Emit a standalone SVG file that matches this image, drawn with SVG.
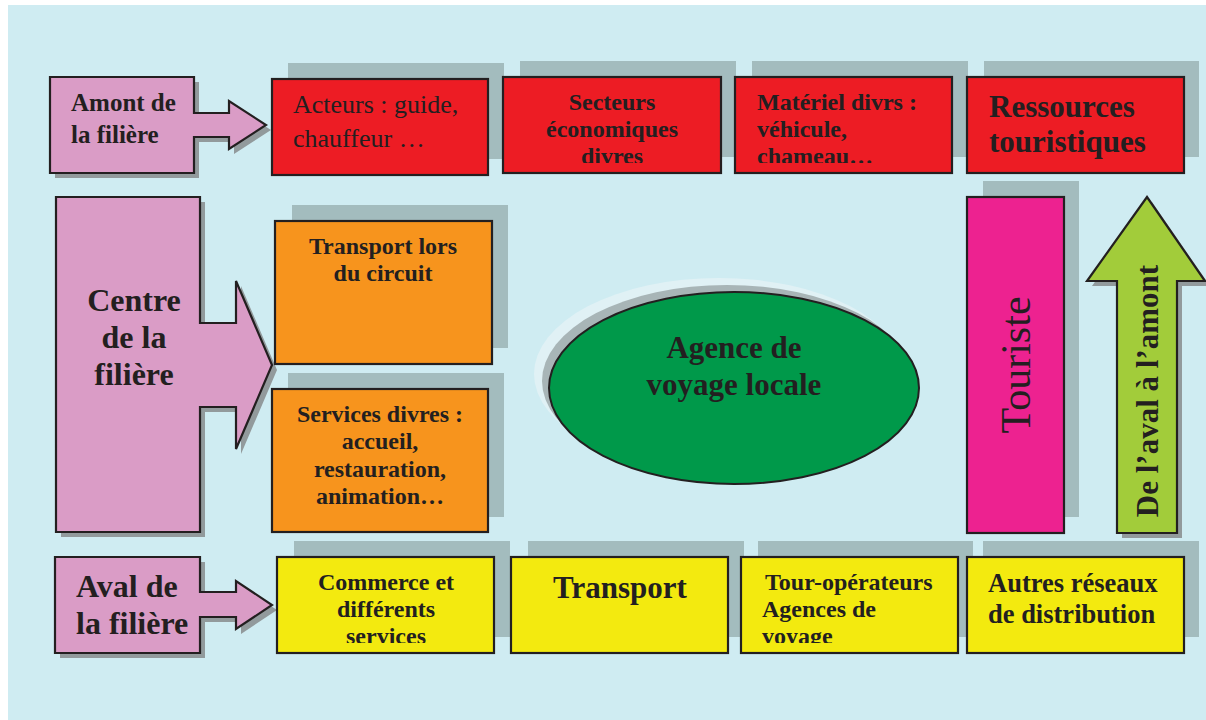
<svg xmlns="http://www.w3.org/2000/svg" width="1206" height="720" viewBox="0 0 1206 720">
<style>
.bs{fill:#a3bcbe}
.as{fill:#929a9c}
.st{stroke:#231f20;stroke-width:2.2}
.pk{fill:#da9cc6}
.rd{fill:#ed1c24}
.or{fill:#f7941d}
.ye{fill:#f3ea0f}
.t{font-family:"Liberation Serif","Times New Roman",serif;fill:#231f20}
.b{font-weight:bold}
.m{text-anchor:middle}
</style>
<defs>
<clipPath id="c1"><rect x="503" y="77" width="218" height="86"/></clipPath>
<clipPath id="c2"><rect x="735" y="77" width="217" height="86"/></clipPath>
<clipPath id="c3"><rect x="277" y="557" width="217" height="86"/></clipPath>
<clipPath id="c4"><rect x="741" y="557" width="217" height="86"/></clipPath>
</defs>
<rect x="0" y="0" width="1206" height="720" fill="#ffffff"/>
<rect x="8" y="5" width="1198" height="715" fill="#cfecf2"/>

<g id="connectors">
<g id="amont">
<polygon class="as" transform="translate(5,5)" points="50,77 194,77 194,113 229,113 229,101 266,125 229,149 229,137 194,137 194,173 50,173"/>
<polygon class="pk st" points="50,77 194,77 194,113 229,113 229,101 266,125 229,149 229,137 194,137 194,173 50,173"/>
<text class="t b" font-size="25" x="71" y="111">Amont de</text>
<text class="t b" font-size="25" x="71" y="143">la filière</text>
</g>
<g id="centre">
<polygon class="as" transform="translate(5,5)" points="56,197 200,197 200,323 236,323 236,281 272,365 236,449 236,407 200,407 200,532 56,532"/>
<polygon class="pk st" points="56,197 200,197 200,323 236,323 236,281 272,365 236,449 236,407 200,407 200,532 56,532"/>
<text class="t b m" font-size="32" x="134" y="311">Centre</text>
<text class="t b m" font-size="32" x="134" y="348">de la</text>
<text class="t b m" font-size="32" x="134" y="385">filière</text>
</g>
<g id="aval">
<polygon class="as" transform="translate(5,5)" points="55,557 200,557 200,592 236,592 236,581 272,605 236,629 236,617 200,617 200,653 55,653"/>
<polygon class="pk st" points="55,557 200,557 200,592 236,592 236,581 272,605 236,629 236,617 200,617 200,653 55,653"/>
<text class="t b" font-size="32" x="76" y="597">Aval de</text>
<text class="t b" font-size="32" x="76" y="634">la filière</text>
</g>
<g id="aval-amont">
<polygon class="as" transform="translate(5,5)" points="1147,197 1205,281 1177,281 1177,533 1117,533 1117,281 1087,281"/>
<polygon fill="#a2cc3a" class="st" points="1147,197 1205,281 1177,281 1177,533 1117,533 1117,281 1087,281"/>
<text class="t b m" font-size="31" transform="translate(1158,391) rotate(-90)">De l’aval à l’amont</text>
</g>
</g>

<g id="acteurs">
<rect class="bs" x="288" y="63" width="216" height="96"/>
<rect class="rd st" x="272" y="79" width="216" height="96"/>
<text class="t" font-size="26" x="293" y="113">Acteurs : guide,</text>
<text class="t" font-size="26" x="293" y="147">chauffeur …</text>
</g>
<g id="secteurs">
<rect class="bs" x="520" y="61" width="216" height="96"/>
<rect class="rd st" x="503" y="77" width="218" height="96"/>
<g clip-path="url(#c1)">
<text class="t b m" font-size="24" x="612" y="110">Secteurs</text>
<text class="t b m" font-size="24" x="612" y="137">économiques</text>
<text class="t b m" font-size="24" x="612" y="164">divres</text>
</g>
</g>
<g id="materiel">
<rect class="bs" x="752" y="61" width="216" height="96"/>
<rect class="rd st" x="735" y="77" width="217" height="96"/>
<g clip-path="url(#c2)">
<text class="t b" font-size="24" x="757" y="110">Matériel divrs :</text>
<text class="t b" font-size="24" x="757" y="137">véhicule,</text>
<text class="t b" font-size="24" x="757" y="164">chameau…</text>
</g>
</g>
<g id="ressources">
<rect class="bs" x="984" y="61" width="215" height="96"/>
<rect class="rd st" x="967" y="77" width="217" height="96"/>
<text class="t b" font-size="31" x="989" y="117">Ressources</text>
<text class="t b" font-size="31" x="989" y="152">touristiques</text>
</g>

<g id="transport-circuit">
<rect class="bs" x="292" y="205" width="216" height="143"/>
<rect class="or st" x="275" y="221" width="217" height="143"/>
<text class="t b m" font-size="24" x="383" y="254">Transport lors</text>
<text class="t b m" font-size="24" x="383" y="281">du circuit</text>
</g>
<g id="services">
<rect class="bs" x="288" y="373" width="216" height="144"/>
<rect class="or st" x="272" y="389" width="216" height="143"/>
<text class="t b m" font-size="24" x="380" y="422">Services divres :</text>
<text class="t b m" font-size="24" x="380" y="449">accueil,</text>
<text class="t b m" font-size="24" x="380" y="477">restauration,</text>
<text class="t b m" font-size="24" x="380" y="504">animation…</text>
</g>

<g id="agence">
<ellipse cx="719" cy="374" rx="185" ry="96" fill="#e0f1f5"/>
<ellipse cx="727" cy="381" rx="185" ry="96" fill="#a8b5b7"/>
<ellipse cx="734" cy="388" rx="185" ry="96" fill="#00994a" stroke="#231f20" stroke-width="2"/>
<text class="t b m" font-size="31" x="734" y="358">Agence de</text>
<text class="t b m" font-size="31" x="734" y="395">voyage locale</text>
</g>

<g id="touriste">
<rect class="bs" x="983" y="181" width="96" height="336"/>
<rect fill="#ed2290" class="st" x="967" y="197" width="97" height="336"/>
<text class="t m" font-size="42" transform="translate(1030,365) rotate(-90)">Touriste</text>
</g>

<g id="commerce">
<rect class="bs" x="294" y="541" width="216" height="96"/>
<rect class="ye st" x="277" y="557" width="217" height="96"/>
<g clip-path="url(#c3)">
<text class="t b m" font-size="24" x="386" y="590">Commerce et</text>
<text class="t b m" font-size="24" x="386" y="617">différents</text>
<text class="t b m" font-size="24" x="386" y="644">services</text>
</g>
</g>
<g id="transport">
<rect class="bs" x="528" y="541" width="216" height="96"/>
<rect class="ye st" x="511" y="557" width="217" height="96"/>
<text class="t b m" font-size="31" x="620" y="598">Transport</text>
</g>
<g id="tour-operateurs">
<rect class="bs" x="758" y="541" width="215" height="96"/>
<rect class="ye st" x="741" y="557" width="217" height="96"/>
<g clip-path="url(#c4)">
<text class="t b" font-size="24" x="765" y="590">Tour-opérateurs</text>
<text class="t b" font-size="24" x="762" y="617">Agences de</text>
<text class="t b" font-size="24" x="762" y="644">voyage</text>
</g>
</g>
<g id="autres">
<rect class="bs" x="983" y="541" width="216" height="96"/>
<rect class="ye st" x="967" y="557" width="217" height="96"/>
<text class="t b" font-size="26.5" x="988" y="592">Autres réseaux</text>
<text class="t b" font-size="26.5" x="988" y="623">de distribution</text>
</g>
</svg>
